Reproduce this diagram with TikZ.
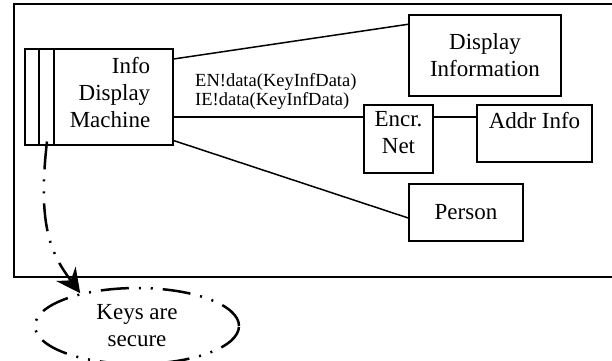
\documentclass[tikz,border=0pt]{standalone}
\usepackage{fontspec}
\setmainfont{Liberation Serif}
\usetikzlibrary{shapes.geometric,arrows.meta}
\begin{document}
\begin{tikzpicture}[x=1pt,y=-1pt,
  box/.style={draw, line width=1.5pt, inner sep=0pt},
  big/.style={font=\fontsize{23}{27}\selectfont, inner sep=0pt},
  lbl/.style={font=\fontsize{18.5}{19.5}\selectfont, align=left, inner sep=0pt},
  conn/.style={line width=1.5pt},
  dashdotdot/.style={line width=2.5pt, dash pattern=on 28pt off 10pt on 2pt off 10pt on 2pt off 10pt}]
\useasboundingbox (0,0) rectangle (612,360);
\clip (0,0) rectangle (612,360);
% frame
\node[box, minimum width=610pt, minimum height=273pt, anchor=north west] (frame) at (13,3) {};
% machine
\node[box, minimum width=148pt, minimum height=96pt, anchor=north west] (mach) at (24,48) {};
\draw[conn] ([xshift=15pt]mach.north west) -- ([xshift=15pt]mach.south west);
\draw[conn] ([xshift=30pt]mach.north west) -- ([xshift=30pt]mach.south west);
\node[big, align=right] (machtxt) at (110,93) {Info\\Display\\Machine};
% other boxes
\node[box, big, align=center, minimum width=152pt, minimum height=81pt] (disp) at (485,55.5) {Display\\Information};
\node[box, minimum width=69pt, minimum height=68pt] (encr) at (398.5,139) {};
\node[big, align=center] (encrtxt) at (398.5,133) {Encr.\\Net};
\node[box, minimum width=115pt, minimum height=57pt] (addr) at (534.5,133.5) {};
\node[big, anchor=base] (addrtxt) at (534.5,128) {Addr Info};
\node[box, big, minimum width=114pt, minimum height=57pt] (person) at (466,212.5) {Person};
% connectors
\draw[conn] ([yshift=-11pt]mach.north east) -- ([yshift=-10pt]disp.north west);
\draw[conn] ([yshift=22pt]encr.west) coordinate (e1) -- (e1 -| mach.east);
\draw[conn] ([yshift=22pt]encr.east) coordinate (e2) -- (e2 -| addr.west);
\draw[conn] ([yshift=5pt]mach.south east) -- ([yshift=-5.5pt]person.west);
\node[lbl, anchor=north west] (msg) at (195,73) {EN!data(KeyInfData)\\IE!data(KeyInfData)};
% ellipse and arrow
\node[ellipse, draw, dashdotdot, big, align=center, minimum width=204pt, minimum height=76pt, inner sep=0pt] (keys) at (137,326) {Keys are\\secure};
\coordinate (src) at ([xshift=23pt, yshift=4pt]mach.south west);
\draw[dashdotdot, -{Stealth[length=24pt,width=24pt,inset=8pt]}] (src) .. controls (37,228) and (52,255) .. (keys.150);
\end{tikzpicture}
\end{document}
